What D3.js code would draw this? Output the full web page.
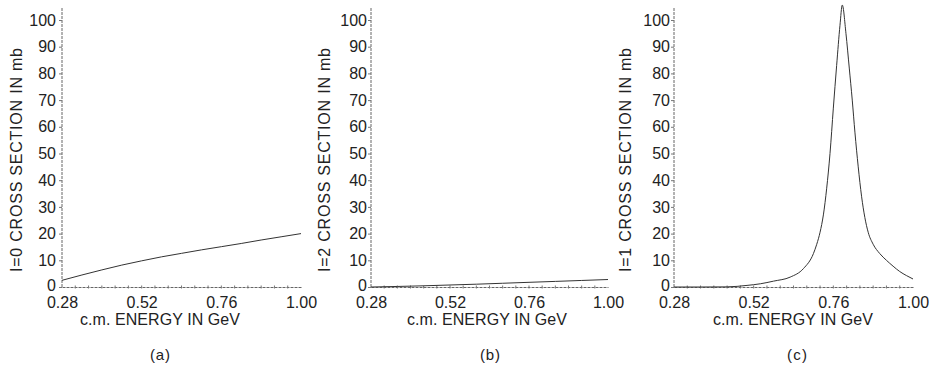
<!DOCTYPE html>
<html>
<head>
<meta charset="utf-8">
<script src="https://cdn.jsdelivr.net/npm/d3@7"></script>
<style>
  body { margin: 0; background: #fff; }
  svg text { font-family: "Liberation Sans Narrow", "Liberation Sans", sans-serif; fill: #222; }
</style>
</head>
<body>
<svg id="chart" width="932" height="374"></svg>
<script>
// energies (GeV) and cross sections (mb)
const energyA = [0.28, 0.34, 0.40, 0.46, 0.52, 0.58, 0.64, 0.70, 0.76, 0.82, 0.88, 0.94, 1.00]
const sigmaA  = [2.5, 4.5, 6.4, 8.2, 9.8, 11.3, 12.6, 13.9, 15.1, 16.3, 17.6, 18.8, 20.0]

const energyB = [0.28, 0.36, 0.44, 0.52, 0.60, 0.68, 0.76, 0.84, 0.92, 1.00]
const sigmaB  = [0.0, 0.2, 0.45, 0.75, 1.05, 1.4, 1.75, 2.1, 2.45, 2.8]

const energyC = [0.28, 0.36, 0.44, 0.50, 0.54, 0.58, 0.63, 0.67, 0.70, 0.71, 0.72, 0.73, 0.74,
                 0.75, 0.76, 0.77, 0.78, 0.787, 0.798, 0.808, 0.817, 0.825, 0.835, 0.845,
                 0.855, 0.865, 0.88, 0.90, 0.92, 0.94, 0.96, 0.98, 1.00]
const sigmaC  = [0.0, 0.0, 0.05, 0.6, 1.2, 2.2, 3.7, 6.9, 12.5, 16, 20.5, 27, 37,
                 50, 67, 83, 98, 105.6, 95, 82, 70, 58, 45, 34,
                 26, 20.5, 16, 12.5, 10, 7.8, 5.8, 4.3, 3.0]

const xTicks = [0.28, 0.52, 0.76, 1.00]
const yTicks = [0, 10, 20, 30, 40, 50, 60, 70, 80, 90, 100]
const yTitles = ["I=0 CROSS SECTION IN mb", "I=2 CROSS SECTION IN mb", "I=1 CROSS SECTION IN mb"]
const xTitle = "c.m. ENERGY IN GeV"
const panelTags = ["(a)", "(b)", "(c)"]

// layout of each panel (pixels)
const panels = [
  { x: energyA, y: sigmaA, left: 62,  right: 301, titleX: 22,  gap: 6, labelX: 160, tagX: 160 },
  { x: energyB, y: sigmaB, left: 371, right: 608, titleX: 330, gap: 4, labelX: 487, tagX: 490 },
  { x: energyC, y: sigmaC, left: 674, right: 913, titleX: 631, gap: 4, labelX: 793, tagX: 797 }
]
const axisTop = 7, base = 287
const font = '"Liberation Sans Narrow", "Liberation Sans", sans-serif'

const svg = d3.select('#chart')
svg.append('rect').attr('width', 932).attr('height', 374).attr('fill', '#fff')

const y = d3.scaleLinear().domain([0, 100]).range([base, 20])

panels.forEach((p, i) => {
  const x = d3.scaleLinear().domain([0.28, 1.00]).range([p.left, p.right])
  const g = svg.append('g')

  // y axis
  const yAxis = d3.axisLeft(y).tickValues(yTicks).tickSize(3).tickPadding(p.gap - 3)
  const ya = g.append('g').attr('transform', `translate(${p.left},0)`).call(yAxis)
  ya.select('.domain').attr('d', `M0,${base}V${axisTop}`)
  // x axis
  const xAxis = d3.axisBottom(x).tickValues(xTicks).tickSize(0).tickPadding(10)
    .tickFormat(d3.format('.2f'))
  const xa = g.append('g').attr('transform', `translate(0,${base})`).call(xAxis)
  xa.selectAll('.tick line').remove()

  ;[ya, xa].forEach(a => {
    a.select('.domain').attr('stroke', '#666').attr('stroke-width', 1)
      .attr('stroke-dasharray', '3,1')
    a.selectAll('.tick line').attr('stroke', '#777')
    a.selectAll('text').attr('font-size', 16).attr('fill', '#222')
      .style('font-family', font)
  })
  // the zero label sits a little higher so it clears the energy labels
  ya.selectAll('.tick').filter(d => d === 0).select('text').attr('dy', '0.2em')

  // small plotter ticks along the energy axis
  g.selectAll('line.minor').data(d3.range(0.32, 1.0, 0.04))
    .enter().append('line').attr('class', 'minor')
    .attr('x1', d => x(d)).attr('x2', d => x(d))
    .attr('y1', base - 1.5).attr('y2', base + 1.5)
    .attr('stroke', '#777').attr('stroke-width', 1)

  // curve
  const line = d3.line().x(d => x(d[0])).y(d => y(d[1])).curve(d3.curveMonotoneX)
  g.append('path').datum(d3.zip(p.x, p.y))
    .attr('d', line).attr('fill', 'none')
    .attr('stroke', '#333').attr('stroke-width', 1)

  // titles
  g.append('text').attr('transform', `translate(${p.titleX},160) rotate(-90)`)
    .attr('text-anchor', 'middle').attr('font-size', 16)
    .attr('textLength', 224).attr('lengthAdjust', 'spacing')
    .text(yTitles[i])
  g.append('text').attr('x', p.labelX).attr('y', 325)
    .attr('text-anchor', 'middle').attr('font-size', 16)
    .attr('textLength', 160).attr('lengthAdjust', 'spacing')
    .text(xTitle)
  g.append('text').attr('x', p.tagX).attr('y', 360)
    .attr('text-anchor', 'middle').attr('font-size', 15)
    .attr('textLength', 20).attr('lengthAdjust', 'spacing')
    .text(panelTags[i])
})
</script>
</body>
</html>
